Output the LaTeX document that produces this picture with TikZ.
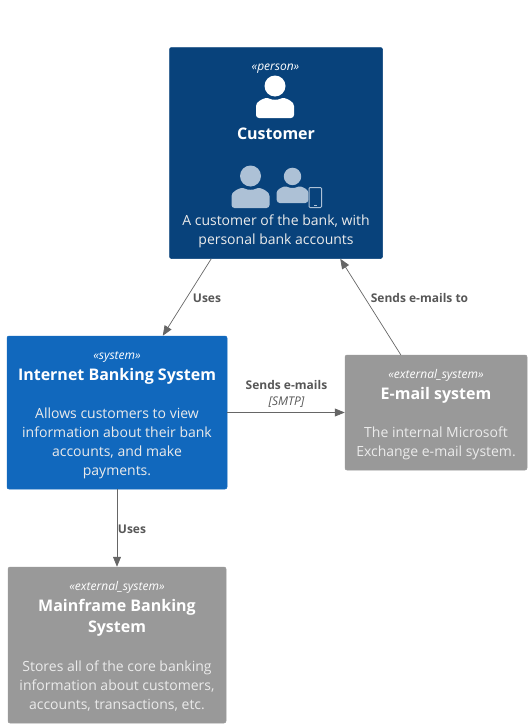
\documentclass[tikz,border=0pt]{standalone}
\usepackage{fontspec}
\setmainfont{Open Sans}
\usetikzlibrary{positioning,arrows.meta,calc}
\definecolor{navy}{HTML}{08427B}
\definecolor{azure}{HTML}{1168BD}
\definecolor{slate}{HTML}{999999}
\definecolor{wire}{HTML}{666666}
\definecolor{pale}{HTML}{ADC1D6}
\tikzset{
  box/.style={draw=#1,fill=#1,rounded corners=2pt,line width=.5pt,inner sep=0pt},
  stereo/.style={text=white,font=\fontsize{12}{14}\selectfont\itshape,inner sep=0pt},
  title/.style={text=white,font=\fontsize{16}{21.5}\selectfont\bfseries,align=center,inner sep=0pt},
  descr/.style={text=white!92!black,font=\fontsize{14}{19}\selectfont,align=center,inner sep=0pt},
  rel/.style={draw=wire,line width=.7pt,-{Triangle[length=10pt,width=8pt]}},
  rellabel/.style={text=wire!85!black,font=\fontsize{12}{14}\selectfont\bfseries,inner sep=0pt},
  person/.pic={
    \fill (0,-32) circle (10.5);
    \fill[rounded corners=3pt] (-19,0) -- (-19,-9) .. controls (-19,-16) and (-13,-19) .. (-7,-20.5)
      .. controls (-3,-18) and (3,-18) .. (7,-20.5) .. controls (13,-19) and (19,-16) .. (19,-9) -- (19,0) -- cycle;
  }
}
\begin{document}
\begin{tikzpicture}[x=1pt,y=-1pt]
        \useasboundingbox (0,0) rectangle (531,728);
        % boxes
        \node[box=navy,minimum width=213pt,minimum height=211pt] (customer) at (276,153) {};
        \node[box=azure,minimum width=220pt,minimum height=153pt] (banking) at (117,412.5) {};
        \node[box=slate,minimum width=182pt,minimum height=115pt] (email) at (436,412.5) {};
        \node[box=slate,minimum width=218pt,minimum height=156pt] (mainframe) at (117,645) {};
        % customer
        \node[stereo] (customerstereo) at (275.5,69) {«person»};
        \pic[white] at (275,118) {person};
        \node[title] (customertitle) at (276,134) {Customer};
        \pic[pale] at (250.5,208) {person};
        \pic[pale,scale=.83] at (292.5,203) {person};
        \draw[pale,line width=1pt,rounded corners=1pt] (309,187.5) rectangle (321.5,207.5);
        \fill[pale] (313.5,205) rectangle (317,206);
        \node[descr] (customerdescr) at (276,231.5) {A customer of the bank, with\\personal bank accounts};
        % internet banking
        \node[stereo] (bankingstereo) at (117,357) {«system»};
        \node[title] (bankingtitle) at (117,376) {Internet Banking System};
        \node[descr] (bankingdescr) at (117,443.5) {Allows customers to view\\information about their bank\\accounts, and make\\payments.};
        % e-mail
        \node[stereo] (emailstereo) at (436,375) {«external\_system»};
        \node[title] (emailtitle) at (436,395) {E-mail system};
        \node[descr] (emaildescr) at (436,443.5) {The internal Microsoft\\Exchange e-mail system.};
        % mainframe
        \node[stereo] (mainframestereo) at (117,587) {«external\_system»};
        \node[title] (mainframetitle) at (117,618) {Mainframe Banking\\System};
        \node[descr] (mainframedescr) at (117,686.5) {Stores all of the core banking\\information about customers,\\accounts, transactions, etc.};
        % relations
        \draw[rel] ([xshift=42pt]customer.south west) -- ([xshift=156pt]banking.north west);
        \draw[rel] ([xshift=56pt]email.north west) -- ([xshift=171pt]customer.south west);
        \draw[rel] (banking.east) -- (email.west);
        \draw[rel] (banking.south) -- (mainframe.north);
        % labels
        \node[rellabel] (usesa) at (207,298) {Uses};
        \node[rellabel] (sendsto) at (419.5,298) {Sends e-mails to};
        \node[rellabel] (sends) at (286.5,385) {Sends e-mails};
        \node[text=wire!85!black,font=\fontsize{12}{14}\selectfont\itshape,inner sep=0pt] (smtp) at (286.5,402) {[SMTP]};
        \node[rellabel] (usesb) at (132,529) {Uses};
      \end{tikzpicture}
\end{document}
